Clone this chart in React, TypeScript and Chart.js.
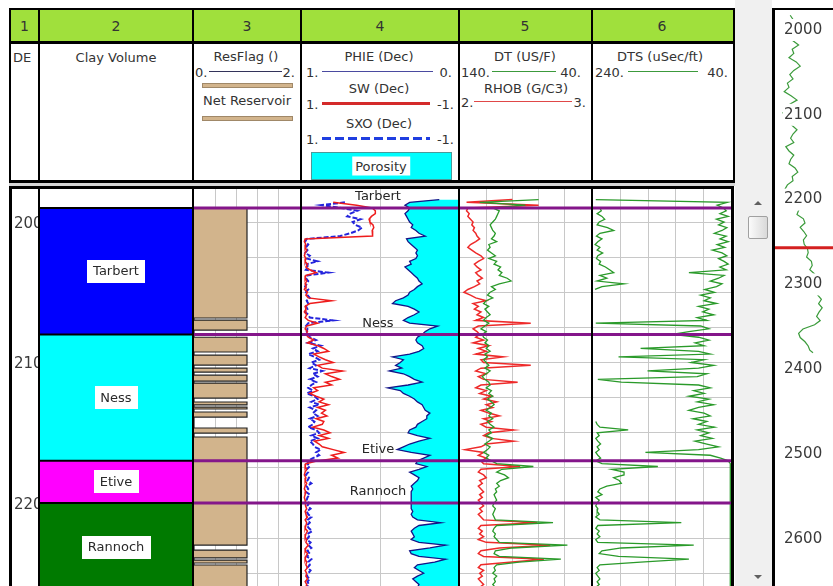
import React, { useEffect, useRef } from "react";
import { Chart, registerables } from "chart.js";

Chart.register(...registerables);

const FONT = "'DejaVu Sans', 'Liberation Sans', sans-serif";
Chart.defaults.font.family = FONT;

// ---------------- data ----------------
const DEPTH = [
  1984, 1986, 1988, 1990, 1992, 1994, 1996, 1998,
  2000, 2002, 2004, 2006, 2008, 2010, 2012, 2014, 2016, 2018,
  2020, 2022, 2024, 2026, 2028, 2030, 2032, 2034, 2036, 2038,
  2040, 2042, 2044, 2046, 2048, 2050, 2052, 2054, 2056, 2058,
  2060, 2062, 2064, 2066, 2068, 2070, 2072, 2074, 2076, 2078,
  2080, 2082, 2084, 2086, 2088, 2090, 2092, 2094, 2096, 2098,
  2100, 2102, 2104, 2106, 2108, 2110, 2112, 2114, 2116, 2118,
  2120, 2122, 2124, 2126, 2128, 2130, 2132, 2134, 2136, 2138,
  2140, 2142, 2144, 2146, 2148, 2150, 2152, 2154, 2156, 2158,
  2160, 2162, 2164, 2166, 2168, 2170, 2172, 2174, 2176, 2178,
  2180, 2182, 2184, 2186, 2188, 2190, 2192, 2194, 2196, 2198,
  2200, 2202, 2204, 2206, 2208, 2210, 2212, 2214, 2216, 2218,
  2220, 2222, 2224, 2226, 2228, 2230, 2232, 2234, 2236, 2238,
  2240, 2242, 2244, 2246, 2248, 2250, 2252, 2254, 2256, 2258,
  2260, 2262,
];

const PHIE = [
  0.12, 0.31, 0.34, 0.31, 0.32, 0.34, 0.33, 0.32,
  0.31, 0.29, 0.30, 0.27, 0.25, 0.21, 0.33, 0.32, 0.30, 0.28,
  0.26, 0.27, 0.26, 0.27, 0.31, 0.30, 0.34, 0.32, 0.30, 0.28,
  0.26, 0.25, 0.23, 0.26, 0.28, 0.31, 0.32, 0.35, 0.40, 0.42,
  0.32, 0.28, 0.25, 0.28, 0.32, 0.35, 0.31, 0.13, 0.18, 0.21,
  0.23, 0.26, 0.27, 0.26, 0.23, 0.22, 0.25, 0.31, 0.42, 0.35,
  0.37, 0.40, 0.36, 0.44, 0.35, 0.31, 0.28, 0.23, 0.32, 0.45,
  0.37, 0.35, 0.31, 0.28, 0.26, 0.23, 0.22, 0.21, 0.18, 0.20,
  0.20, 0.23, 0.26, 0.27, 0.31, 0.32, 0.26, 0.18, 0.25, 0.31,
  0.35, 0.39, 0.30, 0.18, 0.22, 0.26, 0.27, 0.20, 0.25, 0.31,
  0.28, 0.25, 0.26, 0.28, 0.30, 0.29, 0.30, 0.30, 0.30, 0.30,
  0.30, 0.30, 0.30, 0.29, 0.30, 0.29, 0.26, 0.11, 0.25, 0.28,
  0.30, 0.29, 0.28, 0.30, 0.25, 0.08, 0.18, 0.31, 0.30, 0.25,
  0.08, 0.15, 0.26, 0.28, 0.25, 0.22, 0.26, 0.29, 0.27, 0.25,
  0.26, 0.27,
];

const SW = [
  null, 0.60, 0.30, 0.10, 0.06, 0.06, 0.11, 0.14,
  0.13, 0.09, 0.08, 0.10, 0.09, 0.10, 0.96, 0.97, 0.95, 0.96,
  0.94, 0.96, 0.97, 0.95, 0.96, 0.93, 0.95, 0.90, 0.82, 0.95,
  0.96, 0.94, 0.96, 0.95, 0.97, 0.93, 0.95, 0.92, 0.62, 0.90,
  0.96, 0.95, 0.97, 0.94, 0.96, 0.92, 0.80, 0.94, 0.96, 0.93,
  0.95, 0.92, 0.85, 0.93, 0.80, 0.72, 0.66, 0.85, 0.78, 0.70,
  0.60, 0.80, 0.74, 0.48, 0.70, 0.62, 0.52, 0.70, 0.62, 0.85,
  0.80, 0.90, 0.82, 0.72, 0.78, 0.66, 0.80, 0.70, 0.75, 0.68,
  0.82, 0.72, 0.74, 0.86, 0.72, 0.64, 0.78, 0.66, 0.84, 0.78,
  0.74, 0.60, 0.46, 0.62, 0.54, 0.80, 0.95, 0.96, 0.94, 0.96,
  0.97, 0.95, 0.96, 0.94, 0.96, 0.97, 0.95, 0.96, 0.97, 0.96,
  0.95, 0.96, 0.94, 0.96, 0.95, 0.93, 0.96, 0.94, 0.95, 0.96,
  0.93, 0.95, 0.96, 0.94, 0.95, 0.92, 0.95, 0.96, 0.93, 0.95,
  0.96, 0.94, 0.95, 0.93, 0.96, 0.94, 0.95, 0.93, 0.96, 0.94,
  0.95, 0.96,
];

const SXO = [
  null, 0.45, 0.75, 0.50, 0.29, 0.38, 0.42, 0.25,
  0.35, 0.32, 0.23, 0.28, 0.38, 0.51, 0.94, 0.96, 0.92, 0.95,
  0.93, 0.96, 0.90, 0.94, 0.80, 0.94, 0.92, 0.95, 0.66, 0.93,
  0.95, 0.92, 0.94, 0.96, 0.92, 0.95, 0.93, 0.90, 0.94, 0.92,
  0.95, 0.93, 0.96, 0.92, 0.90, 0.60, 0.92, 0.95, 0.93, 0.94,
  0.92, 0.90, 0.82, 0.92, 0.76, 0.86, 0.80, 0.92, 0.84, 0.78,
  0.88, 0.82, 0.90, 0.74, 0.86, 0.80, 0.90, 0.82, 0.88, 0.92,
  0.86, 0.94, 0.84, 0.80, 0.88, 0.78, 0.90, 0.82, 0.86, 0.80,
  0.90, 0.84, 0.86, 0.92, 0.82, 0.78, 0.88, 0.80, 0.90, 0.86,
  0.84, 0.76, 0.82, 0.78, 0.86, 0.92, 0.93, 0.90, 0.94, 0.92,
  0.95, 0.91, 0.93, 0.88, 0.94, 0.92, 0.95, 0.90, 0.93, 0.94,
  0.91, 0.93, 0.89, 0.94, 0.92, 0.88, 0.93, 0.90, 0.94, 0.91,
  0.87, 0.93, 0.91, 0.94, 0.89, 0.92, 0.88, 0.93, 0.90, 0.94,
  0.88, 0.92, 0.90, 0.93, 0.89, 0.92, 0.94, 0.90, 0.93, 0.91,
  0.94, 0.92,
];

const DT = [
  80, 125, 90, 115, 110, 111, 112, 113,
  115, 117, 116, 115, 113, 114, 116, 112, 118, 117,
  119, 116, 113, 118, 112, 114, 109, 111, 108, 110,
  104, 101, 110, 116, 113, 117, 119, 115, 120, 122,
  118, 121, 119, 117, 120, 122, 118, 121, 124, 120,
  123, 122, 119, 121, 118, 120, 117, 121, 119, 122,
  120, 118, 121, 117, 120, 123, 121, 118, 117, 120,
  116, 118, 115, 119, 116, 114, 117, 120, 116, 118,
  115, 119, 117, 114, 118, 116, 120, 115, 118, 121,
  117, 119, 122, 118, 120, 116, 112, 84, 108, 112,
  106, 103, 109, 112, 110, 113, 112, 114, 113, 112,
  114, 115, 113, 114, 115, 114, 113, 69, 112, 114,
  115, 113, 114, 112, 110, 58, 100, 113, 114, 110,
  63, 95, 112, 114, 113, 115, 112, 114, 113, 115,
  113, 114,
];

const RHOB = [
  2.40, 2.05, 2.60, 2.06, 2.05, 2.07, 2.06, 2.08,
  2.10, 2.09, 2.11, 2.10, 2.12, 2.13, 2.15, 2.12, 2.08, 2.06,
  2.09, 2.12, 2.16, 2.18, 2.14, 2.11, 2.13, 2.16, 2.12, 2.14,
  2.17, 2.13, 2.15, 2.11, 2.06, 2.03, 2.08, 2.12, 2.20, 2.10,
  2.14, 2.11, 2.16, 2.13, 2.18, 2.12, 2.54, 2.14, 2.10, 2.13,
  2.15, 2.12, 2.18, 2.10, 2.22, 2.14, 2.20, 2.12, 2.33, 2.16,
  2.18, 2.54, 2.16, 2.12, 2.20, 2.14, 2.18, 2.44, 2.16, 2.12,
  2.20, 2.15, 2.24, 2.18, 2.28, 2.20, 2.25, 2.16, 2.22, 2.30,
  2.18, 2.24, 2.16, 2.20, 2.41, 2.22, 2.18, 2.24, 2.41, 2.20,
  2.16, 2.04, 2.18, 2.14, 2.20, 2.16, 2.18, 2.46, 2.16, 2.14,
  2.18, 2.20, 2.15, 2.17, 2.14, 2.16, 2.18, 2.15, 2.17, 2.14,
  2.16, 2.18, 2.15, 2.17, 2.14, 2.16, 2.18, 2.59, 2.16, 2.14,
  2.17, 2.15, 2.18, 2.14, 2.20, 2.69, 2.30, 2.16, 2.14, 2.18,
  2.64, 2.40, 2.16, 2.14, 2.18, 2.15, 2.17, 2.14, 2.16, 2.18,
  2.15, 2.17,
];

const DTS = [
  236, 45, 60, 51, 47, 56, 44, 61,
  50, 58, 46, 53, 64, 47, 56, 44, 60, 49,
  67, 53, 46, 58, 50, 44, 56, 47, 101, 50,
  58, 70, 53, 61, 78, 64, 84, 70, 79, 61,
  87, 72, 81, 65, 89, 75, 236, 84, 72, 101,
  125, 87, 72, 92, 79, 171, 87, 70, 203, 79,
  98, 65, 87, 161, 75, 89, 233, 199, 87, 70,
  94, 79, 101, 72, 89, 65, 87, 101, 79, 70,
  95, 75, 87, 64, 89, 72, 84, 67, 92, 75,
  58, 87, 164, 70, 55, 44, 41, 41, 41, 41,
  41, 41, 41, 41, 41, 41, 41, 41, 41, 41,
  41, 41, 41, 41, 41, 41, 41, 41, 41, 41,
  41, 41, 41, 41, 41, 41, 41, 41, 41, 41,
  41, 41, 41, 41, 41, 41, 41, 41, 41, 41,
  41, 41,
];

const DTS_WRAP = [
  null, null, null, 230, 228, 234, 227, 223,
  231, 234, 219, 210, 230, 235, 227, 233, 237, 230,
  234, 226, 233, 235, 229, 231, 222, 216, 210, 230,
  220, 234, 195, 227, 237, null, null, null, null, null,
  null, null, null, null, null, null, null, null, null, null,
  null, null, null, null, null, null, null, null, null, null,
  null, null, null, null, null, null, null, null, null, null,
  null, null, null, null, null, null, null, null, null, null,
  null, 236, 234, 230, 189, 234, 231, 236, 233, 229,
  234, 231, 236, 233, 229, 236, 227, 146, 213, 195,
  195, 210, 202, 199, 220, 230, 233, 227, 236, 231,
  234, 236, 233, 234, 231, 236, 230, 112, 233, 236,
  231, 234, 230, 236, 233, 94, 199, 227, 231, 203,
  101, 171, 230, 234, 231, 236, 233, 230, 234, 231,
  236, 233,
];

const OV_DEPTH = [
  1985, 1990, 1995, 2000, 2005, 2010, 2015, 2020, 2025, 2030, 2035, 2040, 2045, 2050, 2055, 2060,
  2065, 2070, 2075, 2080, 2085, 2090, 2095, 2100, 2105, 2110, 2115, 2120, 2125, 2130, 2135, 2140,
  2145, 2150, 2155, 2160, 2165, 2170, 2175, 2180, 2185, 2190, 2195, 2200, 2205, 2210, 2215, 2220,
  2225, 2230, 2235, 2240, 2245, 2250, 2255, 2260, 2265, 2270, 2275, 2280, 2285, 2290, 2295, 2300,
  2305, 2310, 2315, 2320, 2325, 2330, 2335, 2340, 2345, 2350, 2355, 2360, 2365, 2370, 2375, 2380,
  2383,
];
const OV_GR = [
  43, 50, 52, 62, 50, 55, 50, 64, 48, 52, 40, 58, 68, 52, 42, 50,
  36, 40, 28, 45, 60, 42, 34, 25, 32, 36, 48, 60, 50, 44, 52, 32,
  40, 52, 44, 40, 55, 62, 48, 50, 36, 30, 45, 58, 68, 74, 64, 60,
  76, 80, 68, 77, 84, 76, 78, 86, 88, 84, 96, 98, 92, 104, 108, 110,
  112, 118, 112, 121, 114, 123, 115, 109, 118, 104, 75, 64, 68, 80, 88, 92,
  100,
];

const ZONE_NAMES = ["Tarbert", "Ness", "Etive", "Rannoch"];
const ZONE_TOPS = [1990, 2080, 2170, 2200];
const ZONE_BASES = [2080, 2170, 2200, 2263];

const RES_TOP = [1990, 2069.8, 2082, 2094.7, 2104, 2109, 2114.6, 2128.1, 2131.7, 2135.2, 2146.6, 2153, 2233.5, 2240.6, 2244.1];
const RES_BASE = [2068.3, 2076.9, 2092.5, 2101.8, 2106.8, 2113.2, 2125.3, 2130.2, 2133.1, 2138.8, 2150.2, 2229.9, 2239.1, 2242.7, 2265];
const RES_ON = 1;

const DEPTH_LABELS = [2000, 2100, 2200];
const OV_LABELS = [2000, 2100, 2200, 2300, 2400, 2500, 2600];
const GRID_DEPTHS = [2000, 2025, 2050, 2075, 2100, 2125, 2150, 2175, 2200, 2225, 2250];
const TRACK3_GRID = [0.4, 0.8, 1.2, 1.6];
const TRACK4_GRID = [0.5];
const TRACK5_GRID = [60, 80, 100, 120];
const TRACK6_GRID = [80, 120, 160, 200];
const VIEW_MARK = [2259];

// ---------------- styles / layout ----------------
const ZONE_COLORS = ["#0000ff", "#00ffff", "#ff00ff", "#007a00"];
const Y_MIN = 1976.5;
const Y_MAX = 2259.06;
const OV_MIN = 1978.77;
const OV_MAX = 2658;
const GRID_COLOR = "#c8c8c8";
const PURPLE = "#84168a";
const TAN = "#d2b48c";
const GREEN_HDR = "#a0e03c";
const TOP = 189;
const H = 397;

function tickSetter(vals: number[]) {
  return (scale: any) => {
    scale.ticks = vals.map((v) => ({ value: v }));
  };
}

const noVerticalPadding = (scale: any) => {
  scale.paddingTop = 0;
  scale.paddingBottom = 0;
};

function depthScale(withGrid: boolean) {
  return {
    type: "linear",
    position: "left",
    min: Y_MIN,
    max: Y_MAX,
    reverse: true,
    bounds: "data",
    display: withGrid,
    grid: { color: GRID_COLOR, lineWidth: 1, drawTicks: false },
    border: { display: false },
    ticks: { display: false },
    afterBuildTicks: tickSetter(GRID_DEPTHS),
  };
}

function valueScale(min: number, max: number, reverse: boolean, gridVals?: number[]) {
  const s: any = {
    type: "linear",
    axis: "x",
    position: "bottom",
    min,
    max,
    reverse,
    bounds: "data",
    display: !!gridVals,
    grid: { color: GRID_COLOR, lineWidth: 1, drawTicks: false },
    border: { display: false },
    ticks: { display: false },
  };
  if (gridVals) s.afterBuildTicks = tickSetter(gridVals);
  return s;
}

function opts(scales: any) {
  return {
    responsive: false,
    animation: false,
    events: [],
    indexAxis: "y",
    layout: { padding: 0, autoPadding: false },
    plugins: { legend: { display: false }, tooltip: { enabled: false } },
    elements: { point: { radius: 0, hoverRadius: 0 }, line: { tension: 0 } },
    scales,
  };
}

function curve(vals: (number | null)[], axis: string, color: string, width: number, extra: any = {}) {
  return {
    data: DEPTH.map((d, i) => ({ x: vals[i], y: d })),
    xAxisID: axis,
    yAxisID: "y",
    borderColor: color,
    borderWidth: width,
    pointRadius: 0,
    fill: false,
    spanGaps: false,
    ...extra,
  };
}

function hLines(depths: number[], color: string, width: number, labels?: string[], full?: boolean) {
  return {
    id: "hLines",
    afterDatasetsDraw(chart: any) {
      const { ctx, chartArea } = chart;
      const ys = chart.scales.y;
      const x0 = full ? 0 : chartArea.left;
      const x1 = full ? chart.width : chartArea.right;
      ctx.save();
      ctx.strokeStyle = color;
      ctx.lineWidth = width;
      depths.forEach((d, i) => {
        const py = ys.getPixelForValue(d);
        ctx.beginPath();
        ctx.moveTo(x0, py);
        ctx.lineTo(x1, py);
        ctx.stroke();
        if (labels) {
          ctx.fillStyle = "#262626";
          ctx.font = `13px ${FONT}`;
          ctx.textAlign = "center";
          ctx.textBaseline = "middle";
          ctx.fillText(labels[i], (chartArea.left + chartArea.right) / 2 - 2, py - 11);
        }
      });
      ctx.restore();
    },
  };
}

function zoneLabels() {
  return {
    id: "zoneLabels",
    afterDatasetsDraw(chart: any) {
      const { ctx, chartArea } = chart;
      const ys = chart.scales.y;
      const cx = (chartArea.left + chartArea.right) / 2;
      ctx.save();
      ctx.font = `13px ${FONT}`;
      ctx.textAlign = "center";
      ctx.textBaseline = "middle";
      ZONE_NAMES.forEach((name, i) => {
        const py = ys.getPixelForValue((ZONE_TOPS[i] + ZONE_BASES[i]) / 2);
        const w = Math.round(ctx.measureText(name).width + 12);
        const h = 23;
        ctx.fillStyle = "#ffffff";
        ctx.fillRect(Math.round(cx - w / 2), Math.round(py - h / 2), w, h);
        ctx.fillStyle = "#2a2a2a";
        ctx.fillText(name, cx, py + 0.5);
      });
      ctx.restore();
    },
  };
}

const buildDepthTrack = () => ({
  type: "line",
  data: { datasets: [] },
  options: opts({
    y: {
      type: "linear",
      position: "left",
      min: Y_MIN,
      max: Y_MAX,
      reverse: true,
      bounds: "data",
      grid: { display: false, drawTicks: false },
      border: { display: false },
      ticks: {
        mirror: true,
        padding: 1,
        labelOffset: 2,
        autoSkip: false,
        color: "#3a3a3a",
        font: { size: 15, family: FONT },
        callback: (v: any) => String(v),
      },
      afterBuildTicks: tickSetter(DEPTH_LABELS),
      afterFit: noVerticalPadding,
    },
    x: { type: "linear", axis: "x", display: false, min: 0, max: 1 },
  }),
});

const buildZoneTrack = () => ({
  type: "line",
  data: {
    datasets: ZONE_NAMES.map((n, i) => ({
      label: n,
      data: [
        { x: 1, y: ZONE_TOPS[i] },
        { x: 1, y: ZONE_BASES[i] },
      ],
      xAxisID: "z",
      yAxisID: "y",
      borderColor: ZONE_COLORS[i],
      borderWidth: 1,
      backgroundColor: ZONE_COLORS[i],
      fill: { value: 0 },
      pointRadius: 0,
    })),
  },
  options: opts({ y: depthScale(false), z: valueScale(0, 1, false) }),
  plugins: [hLines(ZONE_TOPS, "#000000", 2), zoneLabels()],
});

const buildResTrack = () => ({
  type: "line",
  data: {
    datasets: [
      {
        label: "ResFlag",
        data: RES_TOP.flatMap((t, i) => [
          { x: 0, y: t },
          { x: RES_ON, y: t },
          { x: RES_ON, y: RES_BASE[i] },
          { x: 0, y: RES_BASE[i] },
        ]),
        xAxisID: "rf",
        yAxisID: "y",
        borderColor: "#222222",
        borderWidth: 1.2,
        backgroundColor: TAN,
        fill: { value: 0 },
        pointRadius: 0,
      },
    ],
  },
  options: opts({ y: depthScale(true), rf: valueScale(0, 2, false, TRACK3_GRID) }),
  plugins: [hLines(ZONE_TOPS, PURPLE, 3)],
});

const buildPoroTrack = () => ({
  type: "line",
  data: {
    datasets: [
      curve(PHIE, "phie", "#141488", 1.3, { label: "PHIE", fill: { value: 0 }, backgroundColor: "#00ffff" }),
      curve(SW, "sat", "#ee1c1c", 1.5, { label: "SW" }),
      curve(SXO, "sat", "#2424dc", 2, { label: "SXO", borderDash: [5, 2] }),
    ],
  },
  options: opts({
    y: depthScale(true),
    phie: valueScale(0, 1, true, TRACK4_GRID),
    sat: valueScale(-1, 1, true),
  }),
  plugins: [hLines(ZONE_TOPS, PURPLE, 3, ZONE_NAMES)],
});

const buildSonicTrack = () => ({
  type: "line",
  data: {
    datasets: [
      curve(DT, "dt", "#2a9a2a", 1.3, { label: "DT" }),
      curve(RHOB, "rhob", "#ee2a2a", 1.5, { label: "RHOB" }),
    ],
  },
  options: opts({
    y: depthScale(true),
    dt: valueScale(40, 140, true, TRACK5_GRID),
    rhob: valueScale(2, 3, false),
  }),
  plugins: [hLines(ZONE_TOPS, PURPLE, 3)],
});

const buildShearTrack = () => ({
  type: "line",
  data: {
    datasets: [
      curve(DTS, "dts", "#2a9a2a", 1.3, { label: "DTS" }),
      curve(DTS_WRAP, "dts", "#2a9a2a", 1.3, { label: "DTS wrap" }),
    ],
  },
  options: opts({ y: depthScale(true), dts: valueScale(40, 240, true, TRACK6_GRID) }),
  plugins: [hLines(ZONE_TOPS, PURPLE, 3)],
});

const buildOverview = () => ({
  type: "line",
  data: {
    datasets: [
      {
        label: "Overview",
        data: OV_DEPTH.map((d, i) => ({ x: OV_GR[i], y: d })),
        xAxisID: "gr",
        yAxisID: "y",
        borderColor: "#3b9b3b",
        borderWidth: 1.2,
        pointRadius: 0,
        fill: false,
      },
    ],
  },
  options: opts({
    y: {
      type: "linear",
      position: "left",
      min: OV_MIN,
      max: OV_MAX,
      reverse: true,
      bounds: "data",
      grid: { display: false, drawTicks: false },
      border: { display: false },
      ticks: {
        mirror: true,
        padding: 3,
        labelOffset: 2,
        autoSkip: false,
        z: 1,
        color: "#3a3a3a",
        font: { size: 15, family: FONT },
        callback: (v: any) => String(v),
        showLabelBackdrop: true,
        backdropColor: "#ffffff",
        backdropPadding: { top: 2, bottom: 2, left: 1, right: 1 },
      },
      afterBuildTicks: tickSetter(OV_LABELS),
      afterFit: noVerticalPadding,
    },
    gr: valueScale(20, 150, false),
  }),
  plugins: [hLines(VIEW_MARK, "#d42020", 3, undefined, true)],
});

// ---------------- components ----------------
function LogChart({ x, y, w, h, build }: { x: number; y: number; w: number; h: number; build: () => any }) {
  const ref = useRef<HTMLCanvasElement | null>(null);
  useEffect(() => {
    const chart = new Chart(ref.current as HTMLCanvasElement, build());
    return () => chart.destroy();
  }, []);
  return (
    <canvas
      ref={ref}
      width={w}
      height={h}
      style={{ position: "absolute", left: x, top: y, width: w, height: h, display: "block" }}
    />
  );
}

const Box = ({ x, y, w, h, c, style }: any) => (
  <div
    style={{ position: "absolute", left: x, top: y, width: w, height: h, background: c, boxSizing: "border-box", ...style }}
  />
);

const Txt = ({ x, y, a = "c", s = 13, children, style }: any) => {
  const tx = a === "c" ? "-50%" : a === "r" ? "-100%" : "0";
  return (
    <div
      style={{
        position: "absolute",
        left: x,
        top: y,
        transform: `translate(${tx},-50%)`,
        fontSize: s,
        lineHeight: 1,
        whiteSpace: "nowrap",
        color: "#333",
        ...style,
      }}
    >
      {children}
    </div>
  );
};

export default function App() {
  const headCols = [38, 192, 300, 458, 591];
  return (
    <div
      style={{
        position: "absolute",
        left: 0,
        top: 0,
        width: 833,
        height: 586,
        overflow: "hidden",
        background: "#ffffff",
        fontFamily: FONT,
      }}
    >
      {/* gray strip with scrollbar */}
      <Box x={735} y={0} w={37} h={586} c="#f0f0f0" />
      <div
        style={{
          position: "absolute",
          left: 754,
          top: 201,
          width: 0,
          height: 0,
          borderLeft: "4px solid transparent",
          borderRight: "4px solid transparent",
          borderBottom: "4px solid #606060",
        }}
      />
      <Box
        x={748}
        y={216}
        w={20}
        h={23}
        c="linear-gradient(to right, #fbfbfb, #d9d9d9)"
        style={{ border: "1px solid #a0a0a0", borderRadius: 2 }}
      />
      <div
        style={{
          position: "absolute",
          left: 754,
          top: 575,
          width: 0,
          height: 0,
          borderLeft: "4px solid transparent",
          borderRight: "4px solid transparent",
          borderTop: "4px solid #606060",
        }}
      />

      {/* header frame */}
      <Box x={11} y={10} w={722} h={31} c={GREEN_HDR} />
      <Box x={9} y={8} w={726} h={2} c="#000" />
      <Box x={9} y={8} w={2} h={175} c="#000" />
      <Box x={733} y={8} w={2} h={175} c="#000" />
      <Box x={9} y={41} w={726} h={3} c="#000" />
      <Box x={9} y={180} w={726} h={3} c="#000" />
      <Box x={9} y={183} w={726} h={3} c="#d6d6d6" />
      <Box x={9} y={186} w={725} h={3} c="#000" />
      {headCols.map((x) => (
        <Box key={"h" + x} x={x} y={10} w={2} h={170} c="#000" />
      ))}

      <Txt x={24.5} y={26} s={14}>1</Txt>
      <Txt x={116} y={26} s={14}>2</Txt>
      <Txt x={247} y={26} s={14}>3</Txt>
      <Txt x={380} y={26} s={14}>4</Txt>
      <Txt x={525} y={26} s={14}>5</Txt>
      <Txt x={662} y={26} s={14}>6</Txt>

      {/* column 1 & 2 */}
      <Txt x={13} y={57} a="l">DE</Txt>
      <Txt x={116} y={57}>Clay Volume</Txt>

      {/* column 3 */}
      <Txt x={246} y={56}>ResFlag ()</Txt>
      <Txt x={195} y={72} a="l">0.</Txt>
      <Box x={209} y={71} w={73} h={1} c="#33335a" />
      <Txt x={295} y={72} a="r">2.</Txt>
      <Box x={202} y={83} w={91} h={5} c={TAN} style={{ border: "1px solid #a08868" }} />
      <Txt x={247} y={100}>Net Reservoir</Txt>
      <Box x={202} y={116} w={91} h={5} c={TAN} style={{ border: "1px solid #a08868" }} />

      {/* column 4 */}
      <Txt x={379} y={56}>PHIE (Dec)</Txt>
      <Txt x={306} y={72} a="l">1.</Txt>
      <Box x={322} y={71} w={111} h={1} c="#4a4aa0" />
      <Txt x={452} y={72} a="r">0.</Txt>
      <Txt x={379} y={88}>SW (Dec)</Txt>
      <Txt x={306} y={104} a="l">1.</Txt>
      <Box x={322} y={102} w={108} h={3} c="#d42a2a" />
      <Txt x={454} y={104} a="r">-1.</Txt>
      <Txt x={379} y={123}>SXO (Dec)</Txt>
      <Txt x={306} y={139} a="l">1.</Txt>
      <Box
        x={322}
        y={137}
        w={108}
        h={3}
        c="repeating-linear-gradient(to right, #1f3ee0 0px, #1f3ee0 9px, transparent 9px, transparent 13px)"
      />
      <Txt x={454} y={139} a="r">-1.</Txt>
      <Box x={311} y={152} w={141} h={28} c="#00ffff" style={{ border: "1px solid #4a9a9a" }} />
      <Txt x={381} y={166} style={{ background: "#ffffff", padding: "3px 3px" }}>Porosity</Txt>

      {/* column 5 */}
      <Txt x={525} y={56}>DT (US/F)</Txt>
      <Txt x={461} y={72} a="l">140.</Txt>
      <Box x={492} y={71} w={64} h={1} c="#3c9a3c" />
      <Txt x={581} y={72} a="r">40.</Txt>
      <Txt x={526} y={88}>RHOB (G/C3)</Txt>
      <Txt x={461} y={102} a="l">2.</Txt>
      <Box x={474} y={101} w={98} h={1} c="#e04848" />
      <Txt x={586} y={102} a="r">3.</Txt>

      {/* column 6 */}
      <Txt x={660} y={56}>DTS (uSec/ft)</Txt>
      <Txt x={595} y={72} a="l">240.</Txt>
      <Box x={628} y={71} w={70} h={1} c="#3c9a3c" />
      <Txt x={728} y={72} a="r">40.</Txt>

      {/* data tracks */}
      <LogChart x={11} y={TOP} w={27} h={H} build={buildDepthTrack} />
      <LogChart x={40} y={TOP} w={152} h={H} build={buildZoneTrack} />
      <LogChart x={194} y={TOP} w={106} h={H} build={buildResTrack} />
      <LogChart x={302} y={TOP} w={156} h={H} build={buildPoroTrack} />
      <LogChart x={460} y={TOP} w={131} h={H} build={buildSonicTrack} />
      <LogChart x={593} y={TOP} w={138} h={H} build={buildShearTrack} />

      {/* data borders */}
      <Box x={9} y={TOP} w={3} h={H} c="#000" />
      {headCols.map((x) => (
        <Box key={"d" + x} x={x} y={TOP} w={2} h={H} c="#000" />
      ))}
      <Box x={731} y={TOP} w={3} h={H} c="#000" />

      {/* overview panel */}
      <LogChart x={775} y={10} w={58} h={576} build={buildOverview} />
      <Box x={772} y={8} w={3} h={578} c="#000" />
      <Box x={772} y={8} w={61} h={2} c="#000" />
    </div>
  );
}
